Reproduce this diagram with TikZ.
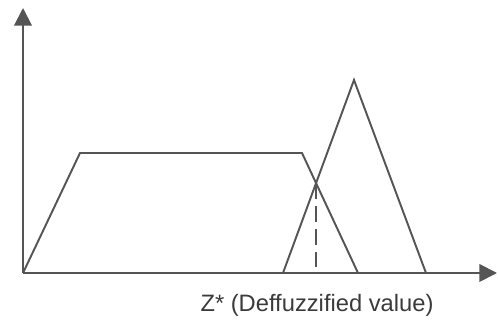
\documentclass[tikz,border=0pt]{standalone}
\usepackage{fontspec}
\setmainfont{Liberation Sans}
\usepackage{xcolor}
\usetikzlibrary{arrows.meta,calc}

\definecolor{linegray}{HTML}{555555}
\definecolor{textgray}{HTML}{3a3a3a}

\begin{document}
\begin{tikzpicture}[
    x=0.02cm, y=0.02cm,
    curve/.style={draw=linegray, line width=1.1pt, line join=miter},
    axis/.style={draw=linegray, line width=1.1pt, -{Triangle[length=10pt,width=10pt]}},
    label/.style={text=textgray, font=\fontsize{13.5}{16}\selectfont}
]
    \useasboundingbox (0,0) rectangle (498,324);

    \coordinate (origin) at (23,51);
    \coordinate (ytop) at (23,316);
    \coordinate (xend) at (497,51);

    % trapezoid
    \coordinate (tza) at (23,51);
    \coordinate (tzb) at (80,171);
    \coordinate (tzc) at (302,171);
    \coordinate (tzd) at (358,51);
    % triangle
    \coordinate (tra) at (283,51);
    \coordinate (trb) at (354,244);
    \coordinate (trc) at (426,51);

    \draw[axis] (origin) -- (ytop);
    \draw[axis] (origin) -- (xend);

    \draw[curve] (tza) -- (tzb) -- (tzc) -- (tzd);
    \draw[curve] (tra) -- (trb) -- (trc);

    \coordinate (cross) at (intersection of tzc--tzd and tra--trb);
    \draw[curve, dashed, dash pattern=on 9pt off 4pt] (cross) -- (cross |- origin);

    \node[label] (zstar) at (317,19) {Z* (Deffuzzified value)};
\end{tikzpicture}
\end{document}
